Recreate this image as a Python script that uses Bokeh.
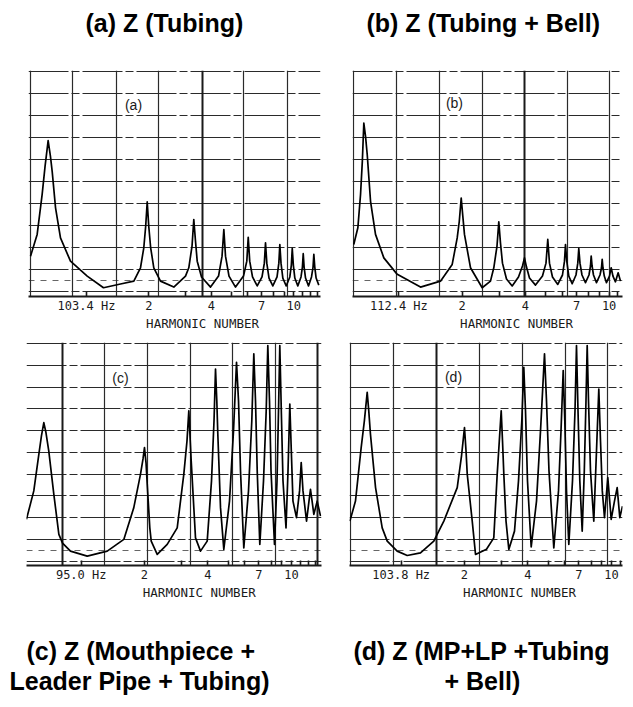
from bokeh.plotting import figure
from bokeh.models import Range1d, FixedTicker, Grid, Label, Title
from bokeh.layouts import column, row
from bokeh.embed import file_html
from bokeh.resources import INLINE

# ---------------- data ----------------
# x: harmonic number (log axis), y: impedance in chart-grid units (0..10)
ha = [0.537, 0.578, 0.611, 0.631, 0.653, 0.670, 0.683, 0.709, 0.749, 0.837,
      1.008, 1.208, 1.459, 1.692, 1.822, 1.890, 1.930, 1.963, 1.997, 2.040,
      2.112, 2.275, 2.638, 3.004, 3.116, 3.230, 3.294, 3.357, 3.421, 3.589,
      3.967, 4.336, 4.508, 4.599, 4.685, 4.870, 5.236, 5.722, 5.936, 6.030,
      6.131, 6.324, 6.664, 7.028, 7.212, 7.307, 7.413, 7.597, 7.925, 8.305,
      8.473, 8.566, 8.681, 8.858, 9.196, 9.573, 9.737, 9.835, 9.954, 10.12,
      10.46, 10.84, 11.01, 11.11, 11.22, 11.40, 11.78, 12.18, 12.39, 12.50,
      12.63, 12.82, 13.21]
ua = [1.59, 2.58, 4.40, 5.68, 6.85, 6.14, 5.45, 3.79, 2.42, 1.36,
      0.68, 0.15, 0.32, 0.45, 1.06, 1.97, 2.95, 4.06, 2.95, 1.97,
      1.06, 0.45, 0.18, 0.68, 1.06, 2.05, 3.26, 2.27, 1.36, 0.64,
      0.18, 0.68, 1.59, 2.80, 1.59, 0.68, 0.18, 0.68, 1.36, 2.45,
      1.36, 0.64, 0.23, 0.64, 1.27, 2.20, 1.27, 0.59, 0.23, 0.64,
      1.27, 2.12, 1.27, 0.59, 0.23, 0.64, 1.18, 1.94, 1.18, 0.59,
      0.23, 0.64, 1.09, 1.70, 1.09, 0.59, 0.23, 0.64, 1.09, 1.67,
      1.09, 0.59, 0.27]

hb = [0.610, 0.638, 0.657, 0.670, 0.681, 0.694, 0.707, 0.733, 0.774, 0.848,
      0.982, 1.267, 1.577, 1.793, 1.894, 1.938, 1.979, 2.014, 2.051, 2.191,
      2.490, 2.727, 2.828, 2.929, 2.987, 3.043, 3.110, 3.250, 3.459, 3.706,
      3.872, 3.958, 4.046, 4.181, 4.465, 4.820, 5.009, 5.108, 5.204, 5.378,
      5.700, 6.001, 6.134, 6.202, 6.290, 6.430, 6.673, 6.957, 7.096, 7.174,
      7.269, 7.430, 7.720, 8.022, 8.155, 8.218, 8.299, 8.427, 8.709, 9.049,
      9.199, 9.270, 9.351, 9.485, 9.716, 10.04, 10.23, 10.43, 10.72, 11.04,
      11.33]
ub = [2.12, 2.88, 4.40, 5.91, 7.65, 7.05, 6.21, 4.09, 2.58, 1.51,
      0.76, 0.18, 0.45, 1.21, 2.42, 3.18, 4.24, 3.41, 2.58, 1.06,
      0.15, 0.45, 1.06, 2.05, 3.15, 2.18, 1.27, 0.55, 0.23, 0.64,
      1.14, 1.51, 1.09, 0.59, 0.27, 0.68, 1.27, 2.35, 1.27, 0.64,
      0.30, 0.73, 1.36, 2.12, 1.36, 0.68, 0.33, 0.73, 1.27, 1.94,
      1.27, 0.73, 0.38, 0.73, 1.14, 1.59, 1.14, 0.73, 0.38, 0.73,
      1.05, 1.44, 1.05, 0.68, 0.38, 0.68, 1.06, 0.68, 0.42, 0.83,
      0.45]

hc = [0.549, 0.595, 0.629, 0.647, 0.664, 0.680, 0.701, 0.741, 0.783, 0.815,
      0.889, 1.068, 1.330, 1.595, 1.779, 1.915, 1.968, 2.000, 2.034, 2.061,
      2.120, 2.153, 2.299, 2.565, 2.862, 3.077, 3.186, 3.250, 3.336, 3.433,
      3.497, 3.694, 3.975, 4.167, 4.283, 4.354, 4.416, 4.465, 4.599, 4.768,
      5.075, 5.302, 5.480, 5.601, 5.725, 5.935, 6.249, 6.479, 6.623, 6.747,
      6.874, 7.073, 7.365, 7.586, 7.720, 7.865, 7.996, 8.308, 8.539, 8.680,
      8.804, 8.950, 9.118, 9.423, 9.632, 9.824, 9.986, 10.17, 10.57, 10.93,
      11.13, 11.35, 11.80, 12.12, 12.32, 12.54, 12.78, 13.26, 13.75]
uc = [1.92, 3.23, 4.92, 5.76, 6.37, 5.90, 5.07, 3.07, 1.23, 0.83,
      0.46, 0.23, 0.46, 1.00, 2.46, 4.00, 4.70, 5.22, 4.52, 3.53,
      1.53, 0.92, 0.31, 0.77, 1.53, 4.00, 5.53, 6.91, 4.61, 2.46,
      1.07, 0.46, 0.92, 3.69, 6.45, 8.83, 7.37, 5.84, 2.46, 0.54,
      2.76, 5.99, 9.14, 7.37, 4.15, 0.61, 3.23, 6.45, 9.53, 7.37,
      4.15, 0.77, 3.69, 6.91, 9.91, 7.37, 4.15, 0.77, 3.69, 6.91,
      9.91, 6.91, 3.69, 1.53, 4.15, 7.22, 5.07, 2.76, 2.00, 3.23,
      4.53, 3.23, 1.84, 2.76, 3.30, 2.76, 2.15, 2.76, 2.07]

hd = [0.570, 0.606, 0.645, 0.668, 0.689, 0.701, 0.714, 0.755, 0.812, 0.858,
      0.957, 1.068, 1.235, 1.429, 1.595, 1.847, 1.936, 2.000, 2.034, 2.061,
      2.177, 2.257, 2.545, 2.757, 2.862, 2.929, 2.990, 3.033, 3.077, 3.152,
      3.250, 3.459, 3.614, 3.747, 3.830, 3.902, 3.988, 4.153, 4.402, 4.599,
      4.805, 4.911, 5.047, 5.320, 5.601, 5.757, 5.897, 6.001, 6.114, 6.270,
      6.529, 6.710, 6.821, 6.935, 7.073, 7.261, 7.430, 7.569, 7.669, 7.780,
      7.952, 8.244, 8.492, 8.709, 8.872, 9.049, 9.269, 9.611, 9.975, 10.34,
      10.65, 10.96, 11.29]
ud = [1.84, 2.76, 5.22, 6.45, 7.76, 6.91, 5.84, 3.38, 1.53, 0.92,
      0.46, 0.26, 0.38, 0.92, 1.84, 3.38, 4.84, 6.14, 5.07, 4.00,
      1.84, 0.31, 0.55, 1.07, 4.00, 5.53, 6.91, 5.53, 4.00, 1.84,
      0.54, 1.38, 3.69, 6.45, 8.91, 6.91, 3.69, 0.65, 2.76, 5.99,
      9.53, 7.37, 4.15, 0.61, 3.23, 5.99, 8.76, 6.45, 3.23, 0.77,
      3.69, 6.91, 9.91, 6.91, 3.69, 1.38, 4.15, 7.37, 9.91, 7.37,
      4.15, 1.84, 5.07, 7.91, 5.53, 3.23, 2.00, 3.84, 1.92, 2.76,
      3.38, 2.00, 2.53]

# chart-paper grid (harmonic-number positions of vertical lines)
vgrid_a = [0.537, 0.856, 1.396, 2.226, 5.723, 9.331]
heavy_a = [3.629]
vgrid_b = [0.610, 0.974, 1.565, 2.490, 6.318, 10.07]
heavy_b = [3.958]
vgrid_c = [1.295, 2.060, 3.311, 5.262, 8.399]
heavy_c = [0.8175, 13.31]
vgrid_d = [0.577, 0.922, 2.365, 3.788, 6.048, 9.611]
heavy_d = [1.472]
hgrid = [0, 1, 2, 3, 4, 5, 6, 7, 8, 9, 10]
half_grid = [0.5]

harm_ticks = [1, 2, 3, 4, 5, 6, 7, 8, 9, 10, 11, 12, 13]
label_ticks = [1, 2, 4, 7, 10]
labels_a = ["103.4 Hz", "2", "4", "7", "10"]
labels_b = ["112.4 Hz", "2", "4", "7", "10"]
labels_c = ["95.0 Hz", "2", "4", "7", "10"]
labels_d = ["103.8 Hz", "2", "4", "7", "10"]

INK = "#1a1a1a"
TITLE_FONT = "Liberation Sans"
TITLE_SIZE = "25px"


def spacer(p, gap, side):
    p.add_layout(Title(text=" ", text_font_size="1px", standoff=gap,
                       text_color="white"), side)


def big_title(p, txt, off, side):
    p.add_layout(Title(text=txt, align="left", offset=off, standoff=0,
                       vertical_align="bottom",
                       text_font=TITLE_FONT, text_font_style="bold",
                       text_font_size=TITLE_SIZE, text_color="black"), side)


def panel(h, u, xr, yr, fw, fh, mb, vgrid, heavy, tick_text, tag, tag_xy,
          titles_above, titles_below, axis_label_offset, gap_above, gap_below):
    p = figure(x_axis_type="log", x_range=Range1d(*xr), y_range=Range1d(*yr),
               frame_width=fw, frame_height=fh,
               min_border_left=mb[0], min_border_right=mb[1],
               min_border_top=mb[2], min_border_bottom=mb[3],
               toolbar_location=None, output_backend="svg",
               y_axis_location=None, title=None)
    p.outline_line_color = None
    p.background_fill_color = "white"
    p.border_fill_color = "white"
    p.grid.visible = False

    p.add_layout(Grid(dimension=1, ticker=FixedTicker(ticks=hgrid),
                      grid_line_color="#2a2a2a", grid_line_width=1.2,
                      grid_line_dash="40 3 8 3"))
    p.add_layout(Grid(dimension=1, ticker=FixedTicker(ticks=half_grid),
                      grid_line_color="#666666", grid_line_width=1,
                      grid_line_dash="6 6"))
    p.add_layout(Grid(dimension=0, ticker=FixedTicker(ticks=vgrid),
                      grid_line_color="#2a2a2a", grid_line_width=1.2))
    p.add_layout(Grid(dimension=0, ticker=FixedTicker(ticks=heavy),
                      grid_line_color=INK, grid_line_width=2.0))

    p.line(h, u, line_color="black", line_width=1.7, line_join="round")

    ax = p.xaxis[0]
    ax.ticker = FixedTicker(ticks=harm_ticks)
    overrides = {t: "" for t in harm_ticks}
    for t, s in zip(label_ticks, tick_text):
        overrides[t] = s
    ax.major_label_overrides = overrides
    ax.axis_line_width = 2.2
    ax.axis_line_color = INK
    ax.major_tick_in = 5
    ax.major_tick_out = 0
    ax.major_tick_line_width = 1.6
    ax.major_tick_line_color = INK
    ax.minor_tick_line_color = None
    ax.major_label_standoff = 2
    ax.axis_label_standoff = 0
    ax.major_label_text_font = "DejaVu Sans Mono"
    ax.major_label_text_font_size = "12px"
    ax.major_label_text_color = INK

    p.add_layout(Title(text="HARMONIC NUMBER", align="left", vertical_align="top",
                       offset=axis_label_offset, standoff=0,
                       text_font="DejaVu Sans Mono", text_font_size="12.5px",
                       text_font_style="normal", text_color=INK), "below")
    p.add_layout(Label(x=tag_xy[0], y=tag_xy[1], text=tag, text_align="center",
                       text_baseline="middle", text_font="Liberation Sans",
                       text_font_size="14px", text_color=INK))
    if titles_above:
        spacer(p, gap_above, "above")
        for (txt, off) in titles_above:
            big_title(p, txt, off, "above")
    if titles_below:
        spacer(p, gap_below, "below")
        for (txt, off) in titles_below:
            big_title(p, txt, off, "below")
    return p


pa = panel(ha, ua, (0.525, 13.46), (-0.25, 10.05), 292, 226, (28, 16, 70, 39),
           vgrid_a, heavy_a, labels_a, "(a)", (1.686, 8.50),
           [("(a) Z (Tubing)", 57)], [], 117.6, 30.6, 0)
pb = panel(hb, ub, (0.6016, 11.58), (-0.25, 10.05), 270, 226, (16, 3, 70, 39),
           vgrid_b, heavy_b, labels_b, "(b)", (1.838, 8.59),
           [("(b) Z (Tubing + Bell)", 14)], [], 107.6, 30.6, 0)
pc = panel(hc, uc, (0.5493, 13.90), (-0.2, 10.05), 295, 223, (26, 15, 7, 142),
           vgrid_c, heavy_c, labels_c, "(c)", (1.538, 8.44),
           [], [("(c) Z (Mouthpiece +", 0),
                ("Leader Pipe + Tubing)", -17)], 116.3, 0, 29.6)
pd = panel(hd, ud, (0.5676, 11.29), (-0.2, 10.05), 273, 223, (13, 3, 7, 142),
           vgrid_d, heavy_d, labels_d, "(d)", (1.773, 8.48),
           [], [("(d) Z (MP+LP +Tubing", 4),
                ("+ Bell)", 95)], 113.6, 0, 29.6)

layout = column(row(pa, pb, spacing=0), row(pc, pd, spacing=0), spacing=0)

with open("out.html", "w") as f:
    f.write(file_html(layout, INLINE))
